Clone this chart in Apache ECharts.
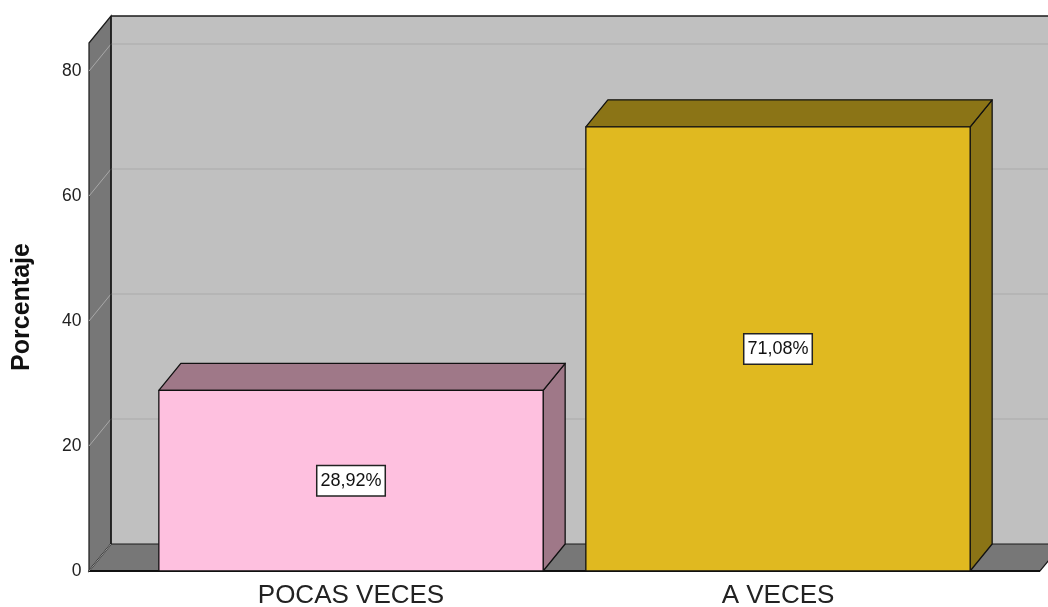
<!DOCTYPE html>
<html>
<head>
<meta charset="utf-8">
<script src="https://cdn.jsdelivr.net/npm/echarts@6/dist/echarts.min.js"></script>
<style>
html,body{margin:0;padding:0;background:#fff;}
#chart{width:1048px;height:607px;}
</style>
</head>
<body>
<div id="chart"></div>
<script>
// ---- data ----
var categories = ['POCAS VECES', 'A VECES'];
var percentages = [28.92, 71.08];
var yTicks = [0, 20, 40, 60, 80];
var frontColors = ['#FEC0DF', '#E0B920'];
var sideColors = ['#9F7888', '#8B7416'];

// ---- 3D look ----
var DX = 22, DY = -27;
var FONT = '"Liberation Sans", Arial, sans-serif';

function pt(x, y) { return [x, y]; }

function renderFrame(params, api) {
  var cs = params.coordSys;
  var band = api.size([1, 0])[0];
  var m = band * 0.1136;
  var L = cs.x - m, R = cs.x + cs.width + m;
  var T = cs.y, B = cs.y + cs.height;
  var children = [];
  children.push({type: 'polygon', shape: {points: [pt(L + DX, T + DY), pt(R + DX + 40, T + DY), pt(R + DX + 40, B + DY), pt(L + DX, B + DY)]},
    style: {fill: '#C0C0C0', stroke: null}});
  children.push({type: 'polygon', shape: {points: [pt(L, T), pt(L + DX, T + DY), pt(L + DX, B + DY), pt(L, B)]},
    style: {fill: '#777777', stroke: '#1a1a1a', lineWidth: 1.2}});
  children.push({type: 'polygon', shape: {points: [pt(L, B), pt(L + DX, B + DY), pt(R + DX, B + DY), pt(R, B)]},
    style: {fill: '#777777', stroke: '#1a1a1a', lineWidth: 1.2}});
  yTicks.forEach(function (t) {
    if (t === 0) return;
    var y = api.coord([0, t])[1];
    children.push({type: 'line', shape: {x1: L, y1: y, x2: L + DX, y2: y + DY}, style: {stroke: '#A8A8A8', lineWidth: 1}});
    children.push({type: 'line', shape: {x1: L + DX, y1: y + DY, x2: R + DX + 40, y2: y + DY}, style: {stroke: '#B2B2B2', lineWidth: 1.5}});
  });
  children.push({type: 'line', shape: {x1: L + DX, y1: T + DY, x2: R + DX + 40, y2: T + DY}, style: {stroke: '#1a1a1a', lineWidth: 1.5}});
  children.push({type: 'line', shape: {x1: L + DX, y1: T + DY, x2: L + DX, y2: B + DY}, style: {stroke: '#1a1a1a', lineWidth: 1.5}});
  children.push({type: 'line', shape: {x1: L, y1: B, x2: R, y2: B}, style: {stroke: '#111', lineWidth: 2}});
  children.push({type: 'line', shape: {x1: L + DX, y1: B + DY, x2: L, y2: B}, style: {stroke: '#999', lineWidth: 1}});
  return {type: 'group', children: children};
}

function renderBar(params, api) {
  var idx = api.value(0), v = api.value(1);
  var top = api.coord([idx, v]);
  var base = api.coord([idx, 0]);
  var w = api.size([1, 0])[0] * 0.9;
  var x0 = top[0] - w / 2, x1 = top[0] + w / 2, y0 = top[1], y1 = base[1];
  var front = frontColors[params.dataIndex], side = sideColors[params.dataIndex];
  var stroke = {stroke: '#111', lineWidth: 1.3, lineJoin: 'round'};
  var label = v.toFixed(2).replace('.', ',') + '%';
  return {type: 'group', children: [
    {type: 'polygon', shape: {points: [pt(x1, y0), pt(x1 + DX, y0 + DY), pt(x1 + DX, y1 + DY), pt(x1, y1)]},
      style: Object.assign({fill: side}, stroke)},
    {type: 'polygon', shape: {points: [pt(x0, y0), pt(x0 + DX, y0 + DY), pt(x1 + DX, y0 + DY), pt(x1, y0)]},
      style: Object.assign({fill: side}, stroke)},
    {type: 'rect', shape: {x: x0, y: y0, width: w, height: y1 - y0},
      style: Object.assign({fill: front}, stroke)},
    {type: 'text', x: top[0], y: (y0 + y1) / 2,
      style: {text: label, align: 'center', verticalAlign: 'middle', fontSize: 18, fontFamily: FONT,
        fill: '#111', backgroundColor: '#fff', borderColor: '#222', borderWidth: 1.5, padding: [6, 3, 5, 3]}}
  ]};
}

var chart = echarts.init(document.getElementById('chart'), null, {renderer: 'canvas'});
chart.setOption({
  backgroundColor: '#fff',
  animation: false,
  grid: {left: 137.5, right: 56.5, top: 43, bottom: 36, containLabel: false, outerBoundsMode: 'none'},
  xAxis: {
    type: 'category', data: categories,
    axisLine: {show: false}, axisTick: {show: false}, splitLine: {show: false},
    axisLabel: {fontSize: 26, fontFamily: FONT, color: '#222', margin: 12}
  },
  yAxis: {
    type: 'value', min: 0, max: 84.5, interval: 20,
    name: 'Porcentaje', nameLocation: 'middle', nameGap: 103,
    nameTextStyle: {fontSize: 25, fontWeight: 'bold', fontFamily: FONT, color: '#111'},
    axisLine: {show: false}, axisTick: {show: false}, splitLine: {show: false},
    axisLabel: {fontSize: 17.5, fontFamily: FONT, color: '#222', margin: 56,
      formatter: function (v) { return yTicks.indexOf(v) >= 0 ? String(v) : ''; }}
  },
  series: [
    {type: 'custom', name: 'frame', renderItem: renderFrame, data: [[0, 0]], z: 1, silent: true, clip: false},
    {type: 'custom', name: 'Porcentaje', renderItem: renderBar, z: 2, clip: false,
      data: percentages.map(function (p, i) { return [i, p]; })}
  ]
});
</script>
</body>
</html>
